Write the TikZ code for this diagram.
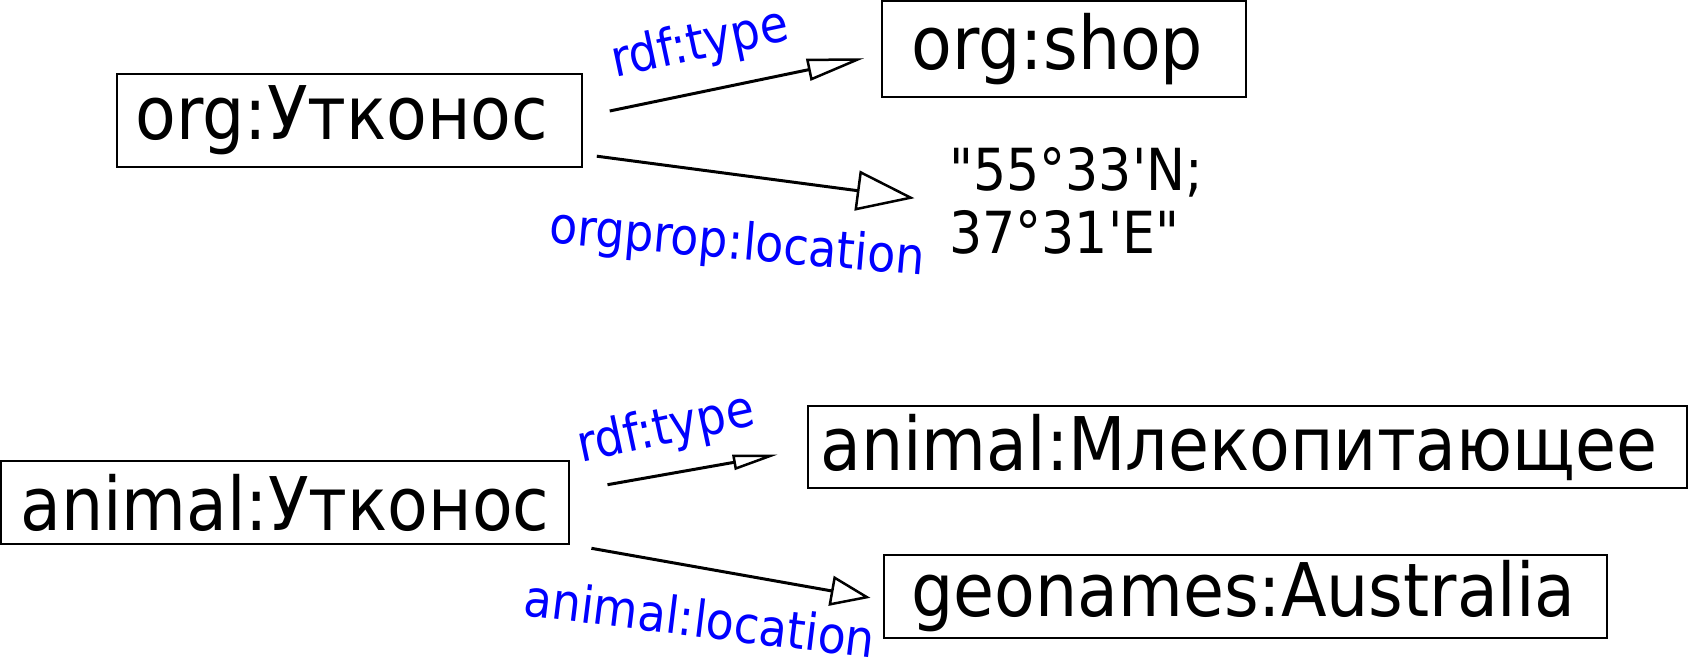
\documentclass[tikz,border=0pt]{standalone}
\usepackage{fontspec}
\setmainfont{DejaVu Sans Condensed}
\newfontfamily\litfont{DejaVu Sans Condensed}
\usetikzlibrary{arrows.meta}
\begin{document}
\begin{tikzpicture}[x=1pt,y=-1pt,
  box/.style={draw, line width=1.6pt, inner sep=0pt, font=\fontsize{74}{80}\selectfont},
  lbl/.style={text=blue, inner sep=0pt, font=\fontsize{51}{56}\selectfont},
  conn/.style={line width=3pt},
]
\useasboundingbox (0,0) rectangle (1689,663);
\node[box, minimum width=465pt, minimum height=93pt] (u1) at (349.5,120.5) {\hspace*{-15pt}org:Утконос};
\node[box, minimum width=364pt, minimum height=96pt] (shop) at (1064,49) {\hspace*{-13pt}org:shop};
\node[inner sep=0pt, align=left, anchor=base west, font=\litfont\fontsize{58}{63.5}\selectfont] (lit) at (949,254) {"55°33'N;\\37°31'E"};
\node[box, minimum width=568pt, minimum height=83pt] (u2) at (285,502.5) {animal:Утконос};
\node[box, minimum width=879pt, minimum height=82pt] (mam) at (1247.5,447) {\hspace*{-17pt}animal:Млекопитающее};
\node[box, minimum width=723pt, minimum height=83pt] (aus) at (1245.5,596.5) {\hspace*{-4pt}geonames:Australia};

\coordinate (a1s) at (609.7,111);
\coordinate (a1e) at (864,58.2);
\coordinate (a2s) at (596.8,156.2);
\coordinate (a2e) at (914.5,198.2);
\coordinate (a3s) at (607.5,484.7);
\coordinate (a3e) at (777.7,454.6);
\coordinate (a4s) at (591.4,548.3);
\coordinate (a4e) at (870.4,597.8);

\draw[conn, -{Triangle[open, length=57pt, width=22pt, line width=2.5pt]}] (a1s) -- (a1e);
\draw[conn, -{Triangle[open, length=58pt, width=40pt, line width=2.5pt]}] (a2s) -- (a2e);
\draw[conn, -{Triangle[open, length=45pt, width=15pt, line width=2.5pt]}] (a3s) -- (a3e);
\draw[conn, -{Triangle[open, length=40pt, width=30pt, line width=2.5pt]}] (a4s) -- (a4e);

\node[lbl, rotate=12] (l1) at (700,45) {rdf:type};
\node[lbl, rotate=-5] (l2) at (737,245) {orgprop:location};
\node[lbl, rotate=12] (l3) at (666,430) {rdf:type};
\node[lbl, rotate=-7] (l4) at (700,618) {animal:location};
\end{tikzpicture}
\end{document}
